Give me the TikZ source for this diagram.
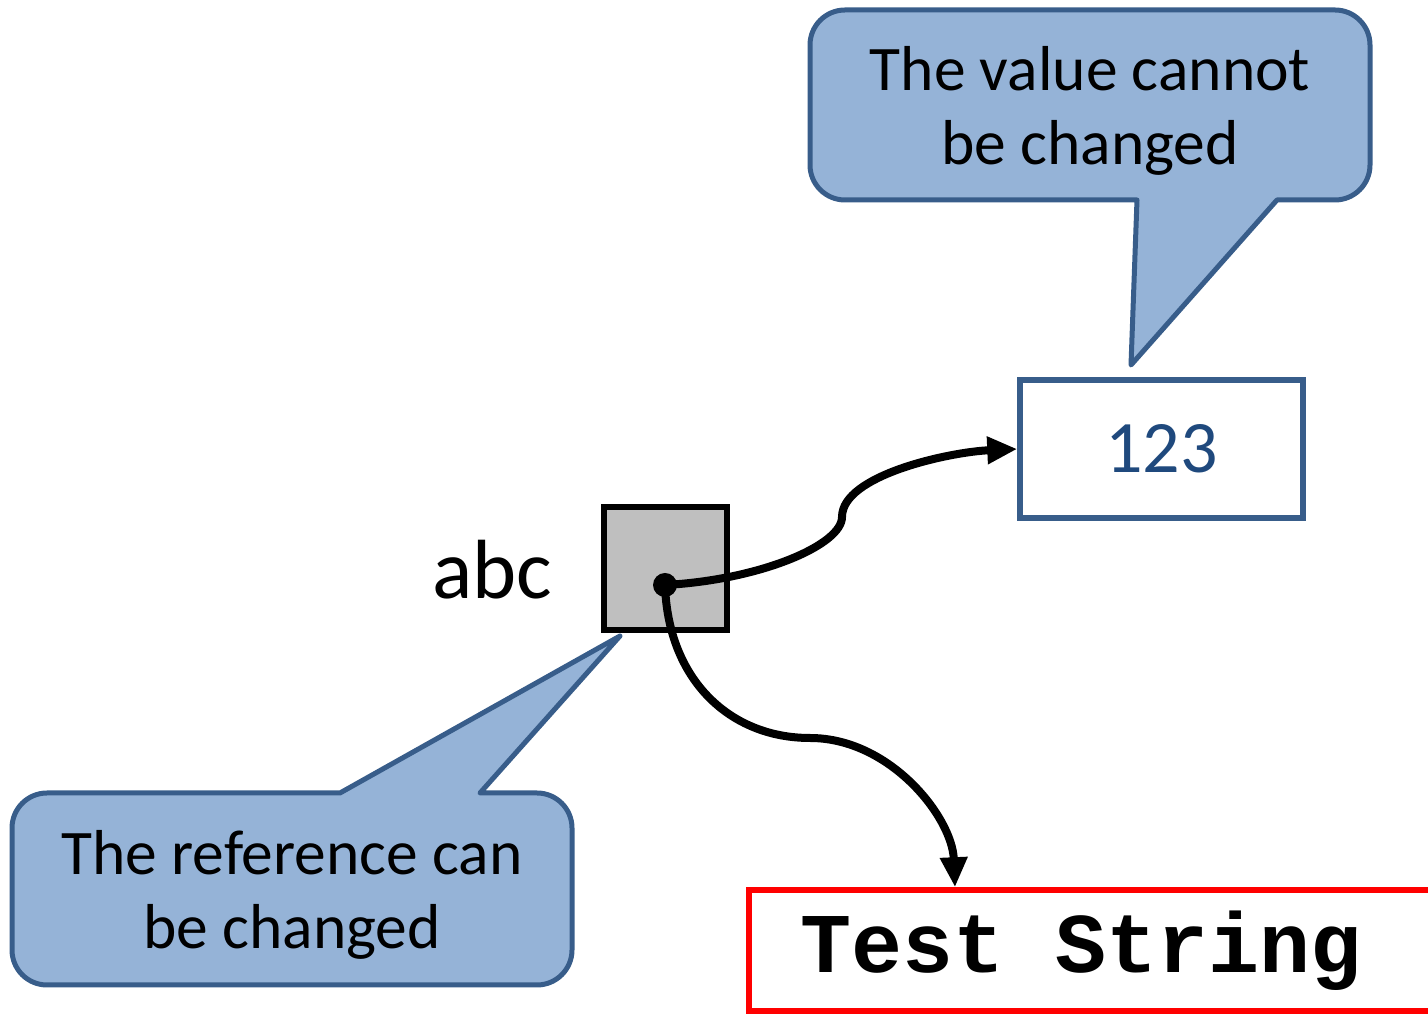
\documentclass[tikz,border=0pt]{standalone}
\usepackage{fontspec}
\setmainfont{Carlito}
\newfontfamily\codefont{Liberation Mono}
\usetikzlibrary{arrows.meta,calc}
\definecolor{calloutfill}{HTML}{95B3D7}
\definecolor{calloutline}{HTML}{385D8A}
\definecolor{valuetext}{HTML}{1F497D}
\definecolor{refgrey}{HTML}{BFBFBF}
\newcommand{\monospace}{\makebox[0.6em]{}}
\tikzset{
  callout/.style={fill=calloutfill, draw=calloutline, line width=5pt, line join=round},
  callouttext/.style={align=center, inner sep=0pt, font=\fontsize{63.5pt}{74pt}\selectfont},
  refbox/.style={draw=black, fill=refgrey, line width=6pt, minimum width=123pt, minimum height=123pt, inner sep=0pt},
  valbox/.style={draw=calloutline, line width=5.5pt, minimum width=283pt, minimum height=138pt, inner sep=0pt,
    text=valuetext, font=\fontsize{74pt}{88pt}\selectfont},
  strbox/.style={draw=red, line width=5.5pt, anchor=west, inner xsep=52pt, inner ysep=0pt,
    text width=600pt, align=left, minimum height=121pt, font=\fontsize{85pt}{100pt}\codefont\bfseries},
  pointer/.style={draw=black, line width=8pt, -{Triangle[length=30pt,width=26pt]}},
}
\begin{document}
\begin{tikzpicture}[x=1pt,y=1pt]
\clip (0,0) rectangle (1428,1017);

% callout above the value box
\path[callout] (1137,817) -- (1131,652) -- (1277,817) -- (1335,817)
  arc[start angle=270, end angle=360, radius=35] -- (1370,972)
  arc[start angle=0, end angle=90, radius=35] -- (845,1007)
  arc[start angle=90, end angle=180, radius=35] -- (810,852)
  arc[start angle=180, end angle=270, radius=35] -- cycle;
\node[callouttext] (capA) at (1090,906) {The value cannot\\be changed};

% callout below the reference box
\path[callout] (480,224) -- (620,381) -- (340,224) -- (47,224)
  arc[start angle=90, end angle=180, radius=35] -- (12,67)
  arc[start angle=180, end angle=270, radius=35] -- (537,32)
  arc[start angle=270, end angle=360, radius=35] -- (572,189)
  arc[start angle=0, end angle=90, radius=35] -- cycle;
\node[callouttext] (capB) at (292,122) {The reference can\\be changed};

% the reference variable
\node[refbox] (ref) at (665.5,448.5) {};
\node[inner sep=0pt, font=\fontsize{84pt}{100pt}\selectfont] (lbl) at (492,447) {abc};
\coordinate (dot) at (665,432);

% the objects
\node[valbox] (val) at (1161.5,568) {123};
\node[strbox] (str) at (746,66.5) {Test\monospace String};

% pointers
\draw[pointer] (dot) .. controls (760,437) and (842,472) .. (842,500)
  .. controls (842,542) and (950,565) .. (val.west);
\draw[pointer] (dot) .. controls (668,337) and (730,279) .. (810,279)
  .. controls (890,279) and (952,200) .. ($(str.north west)+(209,0)$);
\fill[black] (dot) circle[radius=12];
\end{tikzpicture}
\end{document}
